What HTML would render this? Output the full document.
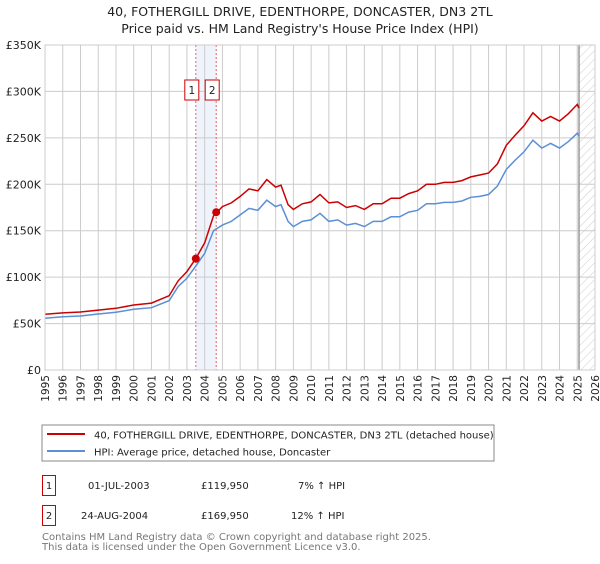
<!DOCTYPE html>
<html><head><meta charset="utf-8"><style>
body{margin:0;background:#fff;font-family:"DejaVu Sans","Liberation Sans",sans-serif;}
svg text{font-family:"DejaVu Sans","Liberation Sans",sans-serif;}
</style></head><body>
<svg id="chart" width="600" height="560" viewBox="0 0 600 560" xmlns="http://www.w3.org/2000/svg">
<defs><pattern id="hatch" width="6" height="6" patternUnits="userSpaceOnUse" patternTransform="rotate(45)"><line x1="0" y1="0" x2="0" y2="6" stroke="#ccc" stroke-width="1"/></pattern></defs>
<text x="300" y="16" text-anchor="middle" font-size="12.5" fill="#222">40, FOTHERGILL DRIVE, EDENTHORPE, DONCASTER, DN3 2TL</text>
<text x="300" y="33" text-anchor="middle" font-size="12.5" fill="#222">Price paid vs. HM Land Registry's House Price Index (HPI)</text>
<g id="grid"></g><g id="marks"></g><g id="axes"></g>
<rect x="42" y="425" width="452" height="36" fill="none" stroke="#888"/>
<line x1="47" y1="434" x2="85" y2="434" stroke="#cc0000" stroke-width="2"/>
<text x="94" y="438.5" font-size="10" fill="#222">40, FOTHERGILL DRIVE, EDENTHORPE, DONCASTER, DN3 2TL (detached house)</text>
<line x1="47" y1="451" x2="85" y2="451" stroke="#5b8fd6" stroke-width="2"/>
<text x="94" y="455.5" font-size="10" fill="#222">HPI: Average price, detached house, Doncaster</text>
<g>
<rect x="42.5" y="475.5" width="13" height="20" fill="none" stroke="#cc0000"/>
<text x="49" y="489" text-anchor="middle" font-size="10" fill="#222">1</text>
<text x="88" y="489" font-size="10" fill="#222">01-JUL-2003</text>
<text x="201" y="489" font-size="10" fill="#222">£119,950</text>
<text x="298" y="489" font-size="10" fill="#222">7% ↑ HPI</text></g>
<g>
<rect x="42.5" y="505.5" width="13" height="20" fill="none" stroke="#cc0000"/>
<text x="49" y="519" text-anchor="middle" font-size="10" fill="#222">2</text>
<text x="81" y="519" font-size="10" fill="#222">24-AUG-2004</text>
<text x="201" y="519" font-size="10" fill="#222">£169,950</text>
<text x="291" y="519" font-size="10" fill="#222">12% ↑ HPI</text></g>
<text x="42" y="540" font-size="10" fill="#777">Contains HM Land Registry data © Crown copyright and database right 2025.</text>
<text x="42" y="550" font-size="10" fill="#777">This data is licensed under the Open Government Licence v3.0.</text>
</svg>
<script>
const years=[1995,1996,1997,1998,1999,2000,2001,2002,2002.5,2003,2003.5,2004,2004.5,2005,2005.5,2006,2006.5,2007,2007.5,2008,2008.3,2008.7,2009,2009.5,2010,2010.5,2011,2011.5,2012,2012.5,2013,2013.5,2014,2014.5,2015,2015.5,2016,2016.5,2017,2017.5,2018,2018.5,2019,2019.5,2020,2020.5,2021,2021.5,2022,2022.5,2023,2023.5,2024,2024.5,2025,2025.1];
const hpiValues=[55.7,57.4,58.2,60.3,62.2,65.4,67.1,74.7,89.8,98.8,112,125.7,150,156,160,167,174,172,183,176,178,160,154.4,160,161.6,168.8,160,161.6,156,157.9,154.4,160,160,165,165,170,172,179,179,180.5,180.5,182,186,187,189,198,216,226,235,247.5,239,244,239,246,255,252];
const propValues=[60,61.5,62.5,64.5,66.5,70,72,80,96,106,120,137,166,176,180,187,195,193,205,197,199,178,173,179,181,189,180,181,175,177,173,179,179,185,185,190,193,200,200,202,202,204,208,210,212,222,242,253,263,277,268,273,268,276,286,282];
const saleDates=[2003.5,2004.65];
const salePrices=[119950,169950];
const saleLabels=["1","2"];
const yTicks=[0,50000,100000,150000,200000,250000,300000,350000];
const yTickLabels=["£0","£50K","£100K","£150K","£200K","£250K","£300K","£350K"];
const xTicks=[1995,1996,1997,1998,1999,2000,2001,2002,2003,2004,2005,2006,2007,2008,2009,2010,2011,2012,2013,2014,2015,2016,2017,2018,2019,2020,2021,2022,2023,2024,2025,2026];
const NS="http://www.w3.org/2000/svg";
const X0=45,X1=595,Y0=370,Y1=45;
const xs=y=>X0+(y-1995)/(2026-1995)*(X1-X0);
const ys=v=>Y0-v/350000*(Y0-Y1);
function mk(tag,attrs,parent){const e=document.createElementNS(NS,tag);for(const k in attrs)e.setAttribute(k,attrs[k]);parent.appendChild(e);return e;}
const grid=document.getElementById('grid'),marks=document.getElementById('marks'),axes=document.getElementById('axes');
let bg=mk('rect',{x:X0,y:Y1,width:X1-X0,height:Y0-Y1,fill:'#fff'},grid);


let band=mk('rect',{x:xs(saleDates[0]),y:Y1,width:xs(saleDates[1])-xs(saleDates[0]),height:Y0-Y1,fill:'#eef3fc'},grid);


let hatch=mk('rect',{x:xs(2025.1),y:Y1,width:X1-xs(2025.1),height:Y0-Y1,fill:'url(#hatch)'},grid);


xTicks.forEach(t=>{const l=mk('line',{x1:xs(t),x2:xs(t),y1:Y1,y2:Y0,stroke:'#ccc'},grid);


const tx=mk('text',{x:0,y:0,'font-size':'10.5',fill:'#222','text-anchor':'end',transform:`translate(${xs(t)+4},${Y0+5}) rotate(-90)`},axes);tx.textContent=t;

});
yTicks.forEach((t,i)=>{const l=mk('line',{x1:X0,x2:X1,y1:ys(t),y2:ys(t),stroke:'#ccc'},grid);


const tx=mk('text',{x:X0-4,y:ys(t)+4,'font-size':'11',fill:'#222','text-anchor':'end'},axes);tx.textContent=yTickLabels[i];

});
let vl=mk('line',{x1:xs(2025.1),x2:xs(2025.1),y1:Y1,y2:Y0,stroke:'#999','stroke-width':1.5},grid);


saleDates.forEach((d,i)=>{const l=mk('line',{x1:xs(d),x2:xs(d),y1:Y1,y2:Y0,stroke:'#e06666','stroke-dasharray':'2,2'},grid);

});
const path=vals=>vals.map((v,i)=>(i?'L':'M')+xs(years[i]).toFixed(1)+','+ys(v*1000).toFixed(1)).join('');
let hp=mk('path',{d:path(hpiValues),fill:'none',stroke:'#5b8fd6','stroke-width':1.5},marks);


let pp=mk('path',{d:path(propValues),fill:'none',stroke:'#cc0000','stroke-width':1.5},marks);


saleDates.forEach((d,i)=>{const c=mk('circle',{cx:xs(d),cy:ys(salePrices[i]),r:4,fill:'#cc0000'},marks);


const g=mk('g',{},marks);


const bx=xs(d)-11;
mk('rect',{x:bx,y:80,width:14,height:20,fill:'#fff',stroke:'#cc0000'},g);
const t=mk('text',{x:bx+7,y:94,'text-anchor':'middle','font-size':'10.5',fill:'#222'},g);t.textContent=saleLabels[i];});
let fr=mk('rect',{x:X0,y:Y1,width:X1-X0,height:Y0-Y1,fill:'none',stroke:'#ccc'},axes);


</script>
</body></html>
